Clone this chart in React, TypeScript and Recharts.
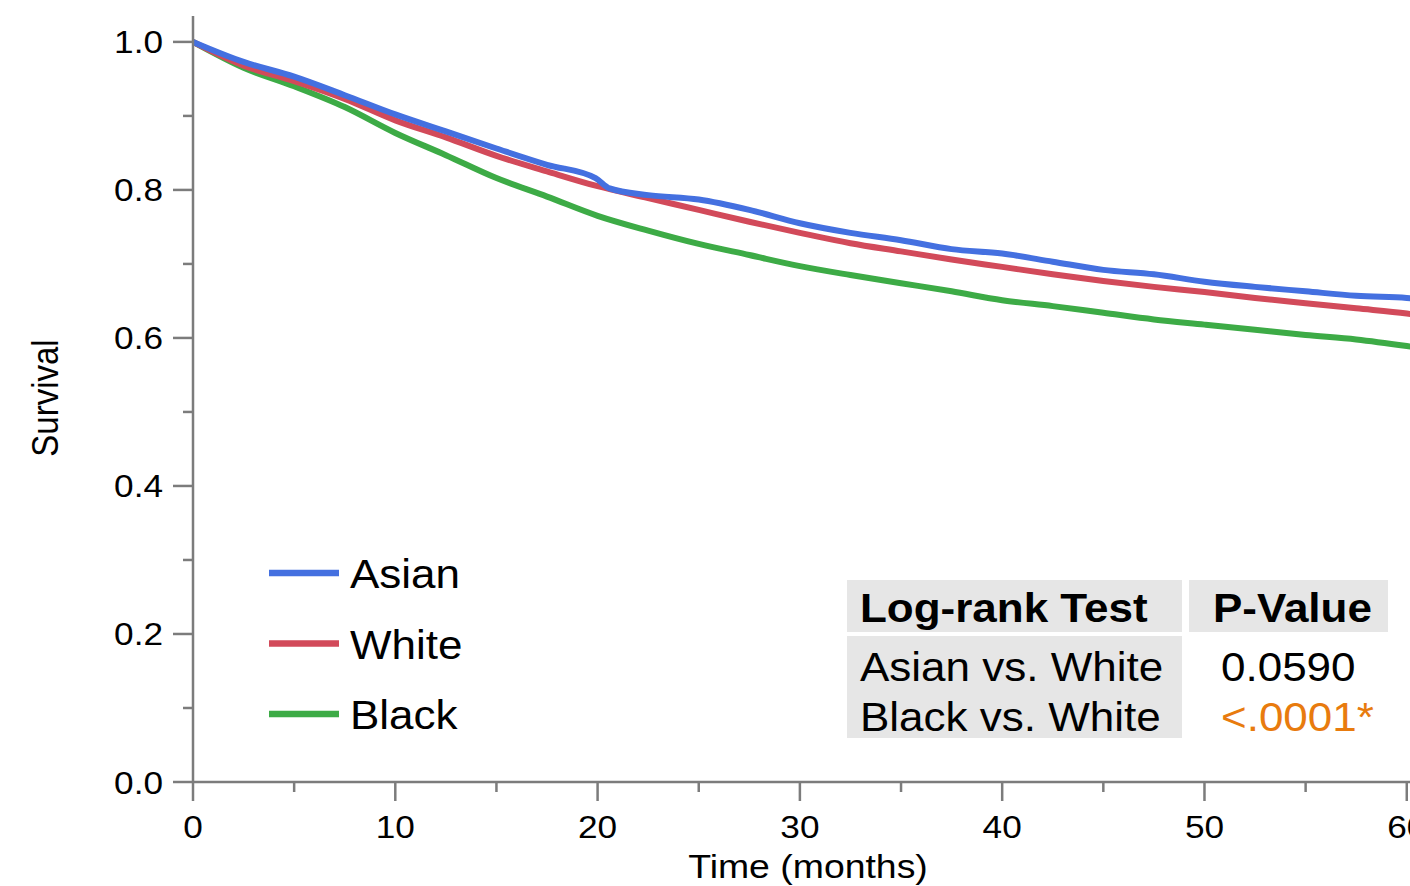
import { LineChart, Line, XAxis, YAxis } from 'recharts'

// Kaplan-Meier survival by race
const asianTime = [0, 2.5, 5, 7.5, 10, 12.5, 15, 17.5, 19.9, 20.6, 22.5, 25, 27.5, 30, 32.5, 35, 37.5, 40, 42.5, 45, 47.5, 50, 52.5, 55, 57.5, 60, 60.5]
const asianSurv = [1.0, 0.973, 0.953, 0.928, 0.902, 0.879, 0.856, 0.834, 0.816, 0.802, 0.793, 0.787, 0.773, 0.755, 0.742, 0.732, 0.72, 0.714, 0.703, 0.692, 0.686, 0.676, 0.669, 0.663, 0.657, 0.654, 0.653]

const months = [0, 2.5, 5, 7.5, 10, 12.5, 15, 17.5, 20, 22.5, 25, 27.5, 30, 32.5, 35, 37.5, 40, 42.5, 45, 47.5, 50, 52.5, 55, 57.5, 60, 60.5]
const whiteSurv = [1.0, 0.968, 0.947, 0.923, 0.894, 0.871, 0.846, 0.825, 0.805, 0.789, 0.773, 0.757, 0.742, 0.728, 0.717, 0.706, 0.696, 0.686, 0.677, 0.669, 0.662, 0.654, 0.647, 0.64, 0.633, 0.631]
const blackSurv = [1.0, 0.965, 0.94, 0.912, 0.877, 0.847, 0.816, 0.791, 0.765, 0.745, 0.727, 0.712, 0.697, 0.685, 0.674, 0.663, 0.651, 0.643, 0.634, 0.625, 0.618, 0.611, 0.604, 0.598, 0.589, 0.587]

const yTicks = [0, 0.1, 0.2, 0.3, 0.4, 0.5, 0.6, 0.7, 0.8, 0.9, 1.0]
const xTicks = [0, 5, 10, 15, 20, 25, 30, 35, 40, 45, 50, 55, 60]

const groups = [
  { name: 'Asian', color: '#4470e0' },
  { name: 'White', color: '#d24a5a' },
  { name: 'Black', color: '#3dab46' },
]
const tests = [
  { label: 'Asian vs. White', p: '0.0590', color: '#000' },
  { label: 'Black vs. White', p: '<.0001*', color: '#e87b0e' },
]

const toRows = (t: number[], s: number[]) => t.map((x, i) => ({ t: x, s: s[i] }))
const asianData = toRows(asianTime, asianSurv)
const whiteData = toRows(months, whiteSurv)
const blackData = toRows(months, blackSurv)

const FONT = '"Liberation Sans", Arial, Helvetica, sans-serif'
const AXIS = '#7c7c7c'
const SX = 1.1 // the reference text is a bit wide

function YTick(props: any) {
  const { x, y, payload } = props
  const v = payload.value
  const major = Math.round(v * 10) % 2 === 0
  return (
    <g>
      <line x1={x - (major ? 20 : 10)} x2={x} y1={y} y2={y} stroke={AXIS} strokeWidth={2.5} />
      {major && (
        <text transform={`translate(${x - 30},${y + 11.5}) scale(${SX},1)`} textAnchor="end"
          fontSize={32} fontFamily={FONT} fill="#000">{v.toFixed(1)}</text>
      )}
    </g>
  )
}

function XTick(props: any) {
  const { x, y, payload } = props
  const v = payload.value
  const major = v % 10 === 0
  return (
    <g>
      <line x1={x} x2={x} y1={y} y2={y + (major ? 19 : 10)} stroke={AXIS} strokeWidth={2.5} />
      {major && (
        <text transform={`translate(${x},${y + 56}) scale(${SX},1)`} textAnchor="middle"
          fontSize={32} fontFamily={FONT} fill="#000">{v}</text>
      )}
    </g>
  )
}

export default function App() {
  return (
    <div style={{ position: 'fixed', left: 0, top: 0, width: 1410, height: 886, overflow: 'hidden', background: '#fff' }}>
      <div style={{ position: 'relative', width: 1440, height: 900 }}>
        <LineChart width={1440} height={900} margin={{ top: 16, right: 13, left: 0, bottom: 0 }}>
          <XAxis xAxisId="top" orientation="top" type="number" domain={[0, 61]} height={0}
            tick={false} tickLine={false} axisLine={{ stroke: AXIS, strokeWidth: 2.5 }} />
          <XAxis dataKey="t" type="number" domain={[0, 61]} ticks={xTicks} height={118}
            interval={0} tickLine={false} tickSize={0} tickMargin={0} tick={XTick}
            axisLine={{ stroke: AXIS, strokeWidth: 2.5 }} allowDataOverflow />
          <YAxis type="number" domain={[0, 1.035]} ticks={yTicks} width={193}
            interval={0} tickLine={false} tickSize={0} tickMargin={0} tick={YTick}
            axisLine={{ stroke: AXIS, strokeWidth: 2.5 }} allowDataOverflow />
          <Line data={blackData} dataKey="s" name="Black" stroke={groups[2].color} strokeWidth={6}
            dot={false} type="monotone" isAnimationActive={false} />
          <Line data={whiteData} dataKey="s" name="White" stroke={groups[1].color} strokeWidth={6}
            dot={false} type="monotone" isAnimationActive={false} />
          <Line data={asianData} dataKey="s" name="Asian" stroke={groups[0].color} strokeWidth={6}
            dot={false} type="monotone" isAnimationActive={false} />
        </LineChart>

        <svg width={1440} height={900} style={{ position: 'absolute', left: 0, top: 0, pointerEvents: 'none' }}
          fontFamily={FONT}>
          <text transform={`translate(58,398) scale(${SX},1) rotate(-90)`} textAnchor="middle" fontSize={33}>Survival</text>
          <text transform={`translate(808,878) scale(${SX},1)`} textAnchor="middle" fontSize={34}>Time (months)</text>

          {groups.map((g, i) => (
            <g key={g.name}>
              <line x1={269} x2={339} y1={573 + i * 70.5} y2={573 + i * 70.5} stroke={g.color} strokeWidth={6.5} />
              <text transform={`translate(350,${588 + i * 70.5}) scale(${SX},1)`} fontSize={40}>{g.name}</text>
            </g>
          ))}

          <rect x={847} y={580} width={335} height={52} fill="#e6e6e6" />
          <rect x={1189} y={580} width={199} height={52} fill="#e6e6e6" />
          <rect x={847} y={636} width={335} height={102} fill="#e6e6e6" />
          <text transform={`translate(860,622) scale(${SX},1)`} fontSize={40} fontWeight="bold">Log-rank Test</text>
          <text transform={`translate(1213,622) scale(${SX},1)`} fontSize={40} fontWeight="bold">P-Value</text>
          {tests.map((r, i) => (
            <g key={r.label}>
              <text transform={`translate(860,${681 + i * 50}) scale(${SX},1)`} fontSize={40}>{r.label}</text>
              <text transform={`translate(1221,${681 + i * 50}) scale(${SX},1)`} fontSize={40} fill={r.color}>{r.p}</text>
            </g>
          ))}
        </svg>
      </div>
    </div>
  )
}
